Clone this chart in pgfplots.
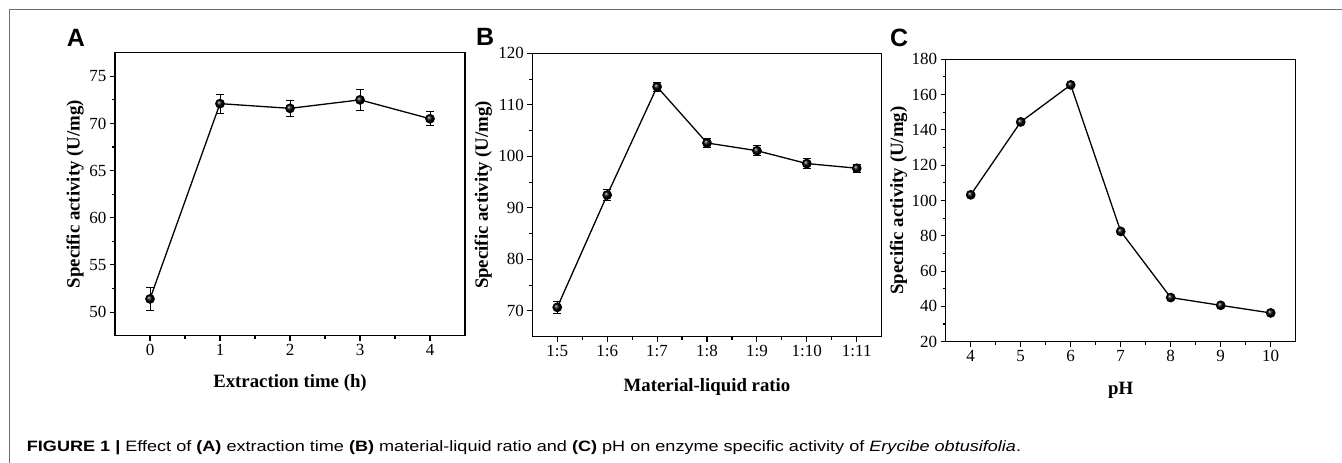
\documentclass[border=0pt]{standalone}
\usepackage{fontspec}
\setmainfont{Liberation Serif}
\newfontfamily\capfont{Liberation Sans}
\newfontfamily\capwide[FakeStretch=1.205]{Liberation Sans}
\usepackage{pgfplots}
\pgfplotsset{compat=1.18}
\definecolor{framegray}{RGB}{110,110,110}

\pgfplotstableread{
x y e
0 51.4 1.2
1 72.1 1.0
2 71.6 0.85
3 72.5 1.1
4 70.5 0.75
}\dataA
\pgfplotstableread{
x y e
0 70.7 1.2
1 92.5 1.0
2 113.5 0.9
3 102.6 0.8
4 101.1 1.0
5 98.6 0.9
6 97.7 0.8
}\dataB
\pgfplotstableread{
x y
4 103.2
5 144.5
6 165.5
7 82.5
8 45.0
9 40.6
10 36.3
}\dataC

\pgfplotsset{panel/.style={
  scale only axis,
  axis line style={line width=1.4pt},
  tick align=outside, xtick pos=bottom, ytick pos=left,
  major tick length=5pt, minor tick length=3pt,
  every tick/.style={black, line width=1.1pt},
  minor x tick num=1, minor y tick num=1,
  tick label style={font=\fontsize{17}{17}\selectfont},
  /pgf/number format/assume math mode=true,
  label style={font=\bfseries\fontsize{18.8}{19}\selectfont},
}}
\pgfplotsset{ser/.style={black, line width=1.3pt, mark=ball, mark size=4.2pt, mark options={ball color=black}}}
\pgfplotsset{errs/.style={error bars/.cd, y dir=both, y explicit,
  error bar style={line width=1pt, black},
  error mark options={rotate=90, mark size=4pt, line width=1pt, black}}}

\begin{document}
\begin{tikzpicture}
\path[use as bounding box] (0pt,0pt) rectangle (1342pt,463pt);
\draw[framegray, line width=1pt] (9.3pt,0pt) -- (9.3pt,453pt) -- (1342pt,453pt);

% Panel A
\begin{axis}[panel, at={(115pt,127.3pt)}, anchor=south west,
  width=350pt, height=283pt,
  xmin=-0.5, xmax=4.5, ymin=47.5, ymax=77.5,
  xtick={0,1,2,3,4}, ytick={50,55,60,65,70,75},
  xlabel={Extraction time (h)}, ylabel={Specific activity (U/mg)},
  xlabel style={at={(axis description cs:0.5,-0.167)}, anchor=center},
  ylabel style={at={(axis description cs:-0.114,0.5)}, anchor=center},
]
\addplot[ser, errs] table[x=x, y=y, y error=e] {\dataA};
\end{axis}

% Panel B
\begin{axis}[panel, at={(532.3pt,126.3pt)}, anchor=south west,
  width=349.4pt, height=283.4pt,
  xmin=-0.5, xmax=6.5, ymin=65, ymax=120,
  xtick={0,1,2,3,4,5,6}, xticklabels={1:5,1:6,1:7,1:8,1:9,1:10,1:11},
  ytick={70,80,90,100,110,120},
  xlabel={Material-liquid ratio}, ylabel={Specific activity (U/mg)},
  xlabel style={at={(axis description cs:0.5,-0.176)}, anchor=center},
  ylabel style={at={(axis description cs:-0.140,0.5)}, anchor=center},
]
\addplot[ser, errs] table[x=x, y=y, y error=e] {\dataB};
\end{axis}

% Panel C
\begin{axis}[panel, at={(945.7pt,121.3pt)}, anchor=south west,
  width=350pt, height=282.4pt,
  xmin=3.5, xmax=10.5, ymin=20, ymax=180,
  xtick={4,5,6,7,8,9,10}, ytick={20,40,60,80,100,120,140,160,180},
  xlabel={pH}, ylabel={Specific activity (U/mg)},
  xlabel style={at={(axis description cs:0.5,-0.171)}, anchor=center},
  ylabel style={at={(axis description cs:-0.135,0.5)}, anchor=center},
]
\addplot[ser] table[x=x, y=y] {\dataC};
\end{axis}

\node[anchor=base west, inner sep=0pt, font=\capfont\bfseries\fontsize{25}{25}\selectfont] at (66.7pt,416.5pt) {A};
\node[anchor=base west, inner sep=0pt, font=\capfont\bfseries\fontsize{25}{25}\selectfont] at (476pt,417pt) {B};
\node[anchor=base west, inner sep=0pt, font=\capfont\bfseries\fontsize{25}{25}\selectfont] at (890pt,416.5pt) {C};

\node[anchor=base west, inner sep=0pt, font=\capwide\fontsize{15}{15}\selectfont] at (26.7pt,11.5pt)
{\textbf{FIGURE 1 |} Effect of \textbf{(A)} extraction time \textbf{(B)} material-liquid ratio and \textbf{(C)} pH on enzyme specific activity of \textit{Erycibe obtusifolia}.};
\end{tikzpicture}
\end{document}
